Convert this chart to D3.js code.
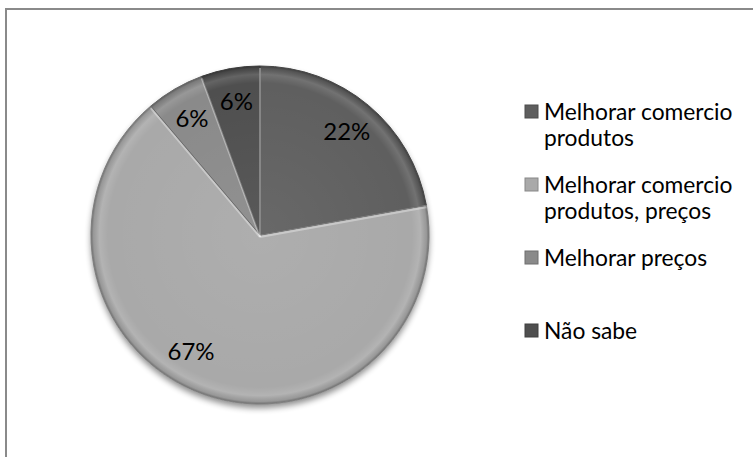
<!DOCTYPE html>
<html>
<head>
<meta charset="utf-8">
<script src="https://cdn.jsdelivr.net/npm/d3@7"></script>
<style>
  html, body { margin: 0; padding: 0; background: #fff; }
  svg { display: block; }
</style>
</head>
<body>
<script>
// ---- data ----
const categories = ["Melhorar comercio produtos", "Melhorar comercio produtos, preços", "Melhorar preços", "Não sabe"];
const legendLines = [["Melhorar comercio", "produtos"], ["Melhorar comercio", "produtos, preços"], ["Melhorar preços"], ["Não sabe"]];
const values = [22.2, 66.7, 5.6, 5.6];
const colors = ["#5e5e5e", "#a9a9a9", "#8a8a8a", "#4f4f4f"];

const W = 753, H = 457;
const svg = d3.select("body").append("svg").attr("width", W).attr("height", H);
const defs = svg.append("defs");

// frame
svg.append("rect").attr("x", 6).attr("y", 9).attr("width", 800).attr("height", 500)
  .attr("fill", "#fff").attr("stroke", "#8a8a8a").attr("stroke-width", 2);

const cx = 260, cy = 235, r = 169;
const font = "Lato, 'Open Sans', sans-serif";

// drop shadow
const f = defs.append("filter").attr("id", "shadow").attr("x", "-20%").attr("y", "-20%").attr("width", "140%").attr("height", "140%");
f.append("feGaussianBlur").attr("in", "SourceAlpha").attr("stdDeviation", 3);
f.append("feOffset").attr("dx", 0).attr("dy", 4).attr("result", "ob");
f.append("feComponentTransfer").append("feFuncA").attr("type", "linear").attr("slope", 0.45);
const fm = f.append("feMerge");
fm.append("feMergeNode");
fm.append("feMergeNode").attr("in", "SourceGraphic");

// rim gradient (bevel look)
const rg = defs.append("radialGradient").attr("id", "rim").attr("gradientUnits", "userSpaceOnUse")
  .attr("cx", 0).attr("cy", 0).attr("r", r);
rg.append("stop").attr("offset", "0%").attr("stop-color", "#fff").attr("stop-opacity", 0.06);
rg.append("stop").attr("offset", "90%").attr("stop-color", "#fff").attr("stop-opacity", 0);
rg.append("stop").attr("offset", "95%").attr("stop-color", "#fff").attr("stop-opacity", 0.12);
rg.append("stop").attr("offset", "98.5%").attr("stop-color", "#000").attr("stop-opacity", 0.1);
rg.append("stop").attr("offset", "100%").attr("stop-color", "#000").attr("stop-opacity", 0.35);

const pie = d3.pie().sort(null).value(d => d);
const arcs = pie(values);
const arc = d3.arc().innerRadius(0).outerRadius(r);
const total = d3.sum(values);
const pct = d3.format(".0%");

const g = svg.append("g").attr("transform", `translate(${cx},${cy})`);
const shadowG = g.append("g").attr("filter", "url(#shadow)");
shadowG.selectAll("path.slice").data(arcs).join("path").attr("class", "slice")
  .attr("d", arc).attr("fill", (d, i) => colors[i]);
g.selectAll("path.rim").data(arcs).join("path").attr("class", "rim")
  .attr("d", arc).attr("fill", "url(#rim)")
  .attr("stroke", (d, i) => d3.color(colors[i]).darker(0.8)).attr("stroke-width", 1);
// light highlight edge along slice starts
g.selectAll("path.hi").data(arcs).join("path").attr("class", "hi")
  .attr("d", d => { const a = d.startAngle; return `M0,0L${Math.sin(a) * r},${-Math.cos(a) * r}`; })
  .attr("stroke", "rgba(255,255,255,0.35)").attr("stroke-width", 2).attr("transform", "translate(0,2)");

// labels; Excel's best-fit moves the large slice label further round
const labelShift = [0, 0.19, 0, 0];
g.selectAll("text.lab").data(arcs).join("text").attr("class", "lab")
  .attr("transform", (d, i) => {
    const mid = (d.startAngle + d.endAngle) / 2 + labelShift[i];
    const rr = r * 0.8;
    return `translate(${Math.sin(mid) * rr},${-Math.cos(mid) * rr})`;
  })
  .attr("text-anchor", "middle").attr("dy", "0.35em")
  .attr("font-family", font).attr("font-size", 24).attr("fill", "#000")
  .text(d => pct(d.value / total));

// legend
const legendY = d3.scalePoint().domain(d3.range(categories.length)).range([112, 331]);
const lg = svg.append("g");
const items = lg.selectAll("g").data(categories).join("g")
  .attr("transform", (d, i) => `translate(525,${legendY(i)})`);
items.append("rect").attr("x", 0).attr("y", -7).attr("width", 13).attr("height", 13)
  .attr("fill", (d, i) => colors[i]).attr("stroke", (d, i) => d3.color(colors[i]).darker(0.6)).attr("stroke-width", 1);
items.append("text").attr("x", 19).attr("y", 0)
  .attr("font-family", font).attr("font-size", 22.8).attr("fill", "#000")
  .selectAll("tspan").data((d, i) => legendLines[i]).join("tspan")
  .attr("x", 19).attr("dy", (d, j) => j === 0 ? "0.35em" : "1.16em").text(d => d);
</script>
</body>
</html>
